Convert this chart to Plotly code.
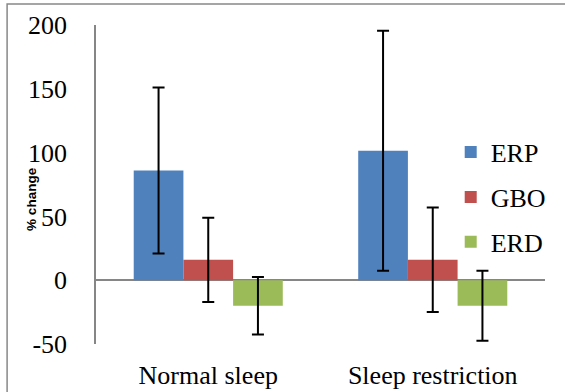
import plotly.graph_objects as go

categories = ["Normal sleep", "Sleep restriction"]
series_names = ["ERP", "GBO", "ERD"]
erp_values = [86, 101.5]
erp_errors = [65, 94]
gbo_values = [16, 16]
gbo_errors = [33, 41]
erd_values = [-20, -20]
erd_errors = [22.5, 27.5]
y_ticks = [-50, 0, 50, 100, 150, 200]
y_tick_labels = ["-50", "0", "50", "100", "150", "200"]

colors = ["#4F81BD", "#C0504D", "#9BBB59"]
values = [erp_values, gbo_values, erd_values]
errors = [erp_errors, gbo_errors, erd_errors]

fig = go.Figure()
for name, vals, errs, col in zip(series_names, values, errors, colors):
    fig.add_trace(go.Bar(
        x=categories, y=vals, name=name, legendgroup=name,
        marker=dict(color=col, line=dict(width=0)),
        error_y=dict(type="data", array=errs, visible=True,
                     color="black", thickness=2, width=6),
    ))

serif = "Liberation Serif, Times New Roman, serif"
fig.update_layout(
    width=565, height=392,
    margin=dict(l=96, r=20, t=25, b=48, autoexpand=False),
    paper_bgcolor="white", plot_bgcolor="white",
    barmode="group", bargap=0.336, bargroupgap=0,
    font=dict(family=serif, size=26, color="black"),
    legend=dict(x=0.79, y=0.675, xanchor="left", yanchor="top",
                font=dict(family=serif, size=26, color="black"),
                traceorder="grouped", tracegroupgap=8,
                bgcolor="rgba(0,0,0,0)"),
    xaxis=dict(showline=False, showgrid=False, ticks="", automargin=False,
               tickfont=dict(family=serif, size=26, color="black"),
               ticklabelstandoff=13),
    yaxis=dict(range=[-50, 200], tickmode="array", tickvals=y_ticks,
               ticktext=y_tick_labels,
               showgrid=False, automargin=False,
               showline=True, linecolor="#868686", linewidth=1.5,
               zeroline=True, zerolinecolor="#868686", zerolinewidth=1.5,
               ticks="", ticklabelstandoff=22,
               tickfont=dict(family="Times New Roman, Liberation Serif, serif",
                             size=26, color="black")),
    shapes=[dict(type="rect", xref="paper", yref="paper",
                 x0=-0.198, x1=1.3, y0=-0.5, y1=1.066,
                 line=dict(color="#888888", width=1.5), layer="below")],
    annotations=[dict(text="<b>% change</b>", xref="paper", yref="paper",
                      x=-0.144, y=0.456, textangle=-90, showarrow=False,
                      xanchor="center", yanchor="middle",
                      font=dict(family="Liberation Sans, Arial, sans-serif",
                                size=13.5, color="black"))],
)

fig.write_html("out.html")
